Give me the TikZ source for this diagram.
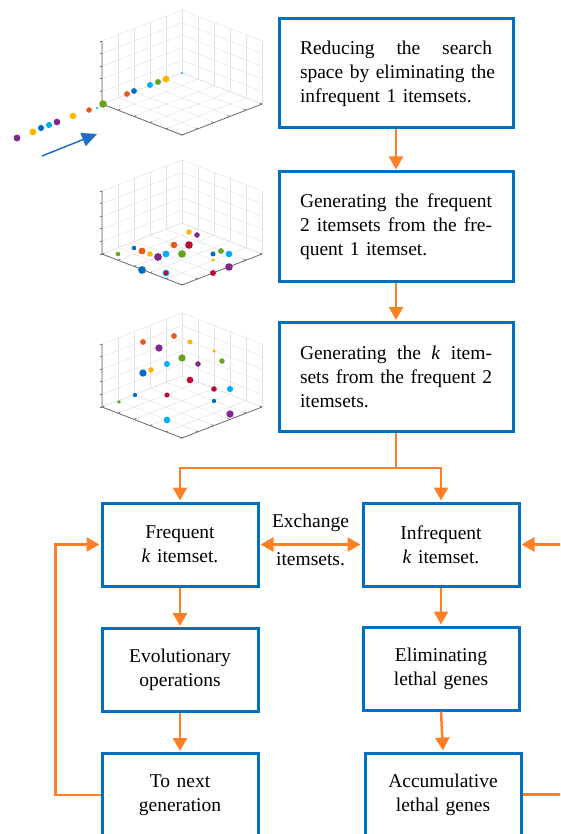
\documentclass[tikz,border=0pt]{standalone}
\usepackage{fontspec}
\setmainfont{Liberation Serif}
\usetikzlibrary{arrows.meta,calc}

\definecolor{boxblue}{RGB}{0,112,192}
\definecolor{flowc}{RGB}{255,127,39}
\definecolor{arrblue}{RGB}{30,110,200}
\definecolor{gridc}{RGB}{226,226,226}
\definecolor{axisc}{RGB}{110,110,110}
\definecolor{mOrange}{RGB}{240,85,20}
\definecolor{mBlue}{RGB}{0,112,192}
\definecolor{mCyan}{RGB}{0,176,240}
\definecolor{mGreen}{RGB}{100,165,30}
\definecolor{mYellow}{RGB}{255,180,0}
\definecolor{mPurple}{RGB}{128,40,140}
\definecolor{mRed}{RGB}{190,10,50}

\tikzset{
  flowbox/.style={draw=boxblue, line width=3pt, font=\fontsize{19.5}{24}\selectfont},
  wbox/.style={flowbox, text width=192pt, inner xsep=21pt, inner ysep=0pt, minimum height=109pt, align=left},
  sbox/.style={flowbox, text width=130pt, inner xsep=13pt, inner ysep=0pt, minimum height=83pt, align=center},
  flowline/.style={draw=flowc, line width=2.5pt},
  flow/.style={flowline, -{Triangle[length=13pt,width=14pt]}, shorten >=1pt},
  bothflow/.style={flowline, {Triangle[length=13pt,width=14pt]}-{Triangle[length=13pt,width=14pt]}, shorten >=1pt, shorten <=1pt},
  lbl/.style={font=\fontsize{19.5}{24}\selectfont, inner sep=0pt},
  gridline/.style={draw=gridc, line width=0.5pt},
  axisline/.style={draw=axisc, line width=0.8pt},
  bluearrow/.style={draw=arrblue, line width=1.4pt, -{Triangle[length=15pt,width=14pt]}},
}

% a grey 3-D axes box with a 5x5 grid on floor and two back walls
\newcommand\axesbox[2]{%
  \begin{scope}[shift={(#1,#2)}, x={(16pt,6.2pt)}, y={(16pt,-6.2pt)}, z={(0pt,12.6pt)}]
    \foreach \i in {0,...,5}{
      \draw[gridline] (\i,0,0) -- (\i,5,0);
      \draw[gridline] (0,\i,0) -- (5,\i,0);
      \draw[gridline] (\i,0,0) -- (\i,0,5);
      \draw[gridline] (0,0,\i) -- (5,0,\i);
      \draw[gridline] (5,\i,0) -- (5,\i,5);
      \draw[gridline] (5,0,\i) -- (5,5,\i);
    }
    \draw[axisline] (0,0,5) -- (0,0,0) -- (0,5,0) -- (5,5,0);
    \foreach \i in {0,...,5}{
      \draw[axisline] (0,0,\i) -- ++(-2.5pt,0pt);
      \draw[axisline] (0,\i,0) -- (0.14,\i,0);
      \draw[axisline] (\i,5,0) -- (\i,4.86,0);
    }
  \end{scope}}

% filled scatter marker: x, y, colour, radius
\newcommand\pdot[4]{\fill[#3] (#1,#2) circle ({1.15*#4 pt});}
% one justified line of the wide boxes
\newcommand\jline[1]{\leavevmode\hbox to 192pt{#1}}

\begin{document}
\begin{tikzpicture}[x=1pt, y=-1pt]
\path[use as bounding box] (0,0) rectangle (560,834);
\clip (0,0) rectangle (560,834);

% ---- scatter plots ----
\axesbox{102}{104}
\axesbox{102}{254}
\axesbox{102}{407}

% plot 1: points along one line
\pdot{17}{138}{mPurple}{3}
\pdot{33}{132}{mYellow}{3}
\pdot{41}{128}{mBlue}{2.7}
\pdot{49}{125}{mCyan}{2.7}
\pdot{57}{122}{mPurple}{2.9}
\pdot{73}{116}{mYellow}{2.9}
\pdot{89}{110}{mOrange}{2.4}
\pdot{97}{108}{mCyan}{1}
\pdot{103}{104}{mGreen}{3.3}
\pdot{127}{94}{mOrange}{2.5}
\pdot{134}{91}{mBlue}{2.5}
\pdot{150}{85}{mCyan}{2.6}
\pdot{158}{82}{mGreen}{2.6}
\pdot{166}{79}{mYellow}{3}
\pdot{182}{73}{mCyan}{1}
\coordinate (pa) at (42,156);
\coordinate (pb) at (97,134);
\draw[bluearrow] (pa) -- (pb);

% plot 2
\pdot{118}{254}{mGreen}{2}
\pdot{134}{248}{mBlue}{2}
\pdot{142}{251}{mOrange}{3}
\pdot{150}{254}{mYellow}{2.4}
\pdot{158}{257}{mPurple}{3.4}
\pdot{166}{254}{mCyan}{3}
\pdot{142}{270}{mBlue}{3.4}
\pdot{166}{273}{mCyan}{3}
\pdot{166}{273}{mRed}{2}
\pdot{174}{245}{mOrange}{2.9}
\pdot{182}{254}{mGreen}{3.4}
\pdot{189}{245}{mRed}{3.3}
\pdot{189}{232}{mYellow}{2.4}
\pdot{197}{235}{mPurple}{2.4}
\pdot{213}{254}{mBlue}{2.2}
\pdot{221}{251}{mGreen}{2.5}
\pdot{229}{254}{mCyan}{2.9}
\pdot{213}{260}{mYellow}{1.7}
\pdot{229}{267}{mPurple}{3.3}
\pdot{213}{273}{mRed}{2.6}

% plot 3
\pdot{143}{342}{mOrange}{2.5}
\pdot{174}{336}{mOrange}{2.5}
\pdot{159}{348}{mPurple}{3.2}
\pdot{190}{342}{mYellow}{2.2}
\pdot{214}{351}{mYellow}{1.7}
\pdot{182}{358}{mGreen}{3.2}
\pdot{198}{364}{mPurple}{2.4}
\pdot{222}{361}{mGreen}{2.4}
\pdot{167}{364}{mCyan}{2.7}
\pdot{151}{370}{mYellow}{2.4}
\pdot{143}{373}{mBlue}{3.2}
\pdot{190}{380}{mRed}{2.9}
\pdot{214}{389}{mRed}{2.4}
\pdot{230}{389}{mCyan}{2.7}
\pdot{135}{395}{mBlue}{1.9}
\pdot{119}{402}{mGreen}{1.7}
\pdot{167}{395}{mRed}{2.2}
\pdot{214}{401}{mBlue}{1.9}
\pdot{167}{420}{mCyan}{2.9}
\pdot{230}{414}{mPurple}{3.2}

% ---- flow chart ----
\node[wbox] (reduce) at (396,73.5) {%
  \jline{Reducing \hfill the \hfill search}\\
  \jline{space \hfill by \hfill eliminating \hfill the}\\
  infrequent 1 itemsets.};
\node[wbox] (gen2) at (396,226.5) {%
  \jline{Generating \hfill the \hfill frequent}\\
  \jline{2 \hfill itemsets \hfill from \hfill the \hfill fre-}\\
  quent 1 itemset.};
\node[wbox] (genk) at (396,377) {%
  \jline{Generating \hfill the \hfill \textit{k} \hfill item-}\\
  \jline{sets \hfill from \hfill the \hfill frequent \hfill 2}\\
  itemsets.};

\node[sbox] (freq)   at (180,544.5) {Frequent\\\textit{k} itemset.};
\node[sbox] (infreq) at (441,544.5) {Infrequent\\\textit{k} itemset.};
\node[sbox] (evo)    at (180,670)   {Evolutionary\\operations};
\node[sbox] (elim)   at (441,668.5) {Eliminating\\lethal genes};
\node[sbox] (tonext) at (180,795)   {To next\\generation};
\node[sbox] (accum)  at (443,794.5) {Accumulative\\lethal genes};

\draw[flow] (reduce) -- (gen2);
\draw[flow] (gen2) -- (genk);
\draw[flowline] (genk.south) -- ++(0,35) coordinate (split);
\draw[flow] (split) -| (freq.north);
\draw[flow] (split) -| (infreq.north);

\draw[bothflow] (freq.east) --
  node[lbl, above=12pt] (exch) {Exchange}
  node[lbl, below=7pt] (items) {itemsets.}
  (infreq.west);

\draw[flow] (freq) -- (evo);
\draw[flow] (evo) -- (tonext);
\draw[flow] (infreq) -- (elim);
\draw[flow] (elim.south) -- (accum.north);

\draw[flow] (tonext.west) -- ++(-45,0) |- (freq.west);
\draw[flow] (accum.east) -- ++(45,0) |- (infreq.east);
\end{tikzpicture}
\end{document}
